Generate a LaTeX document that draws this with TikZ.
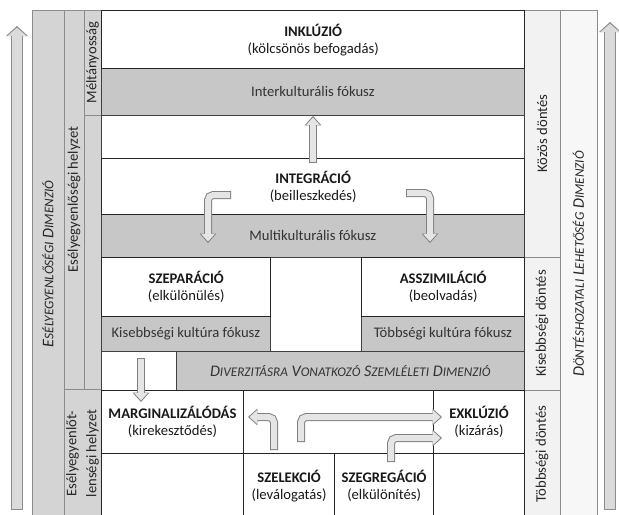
\documentclass[tikz,border=0pt]{standalone}
\usepackage{fontspec}
\setmainfont{Carlito}
\usepackage{tikz}
\usetikzlibrary{arrows.meta}

\newcommand{\pxu}{0.3mm}
\newcommand{\mainfs}{\fontsize{12.5}{14.5}\selectfont}
\newcommand{\sidefs}{\fontsize{12.5}{17}\selectfont}
\newcommand{\dimfs}{\fontsize{13.8}{16}\selectfont\itshape}
\newcommand{\capsc}[2]{#1{\fontsize{11.3}{13}\selectfont #2}}
\newcommand{\fatarrow}[3]{\draw[#1] #3; \draw[#2] #3;}

\begin{document}
\begin{tikzpicture}[x=\pxu, y=-\pxu, wh/.style 2 args={minimum width=#1*\pxu, minimum height=#2*\pxu}]
	\tikzstyle{stage} = [draw=black!85, line width=1.2pt, fill=white, anchor=north west, inner sep=0pt, align=center, font=\mainfs, text=black!90]
	\tikzstyle{focus} = [draw=black!75, line width=0.6pt, fill=black!22, anchor=north west, inner sep=0pt, align=center, font=\mainfs, text=black!80]
	\tikzstyle{cell} = [draw=black!85, line width=0.8pt, fill=white, anchor=north west, inner sep=0pt, align=center, font=\mainfs, text=black!90]
	\tikzstyle{sidecol} = [draw=black!45, line width=0.5pt, fill=black!17, rotate=90, inner sep=0pt, align=center, font=\sidefs, text=black!85]
	\tikzstyle{arrowrim} = [draw=black!50, line width=2.4mm, rounded corners=1.6mm, -{Triangle[width=5mm, length=2.8mm, line width=0pt]}]
	\tikzstyle{arrowcore} = [draw=black!10, line width=1.8mm, rounded corners=1.6mm, shorten <=0.3mm, shorten >=0.45mm, -{Triangle[width=4mm, length=2.2mm, line width=0pt]}]
	\tikzstyle{bigrim} = [draw=black!45, line width=3.6mm, -{Triangle[width=6.6mm, length=3mm, line width=0pt]}]
	\tikzstyle{bigcore} = [draw=black!14, line width=3mm, shorten <=0.3mm, shorten >=0.5mm, -{Triangle[width=5.6mm, length=2.45mm, line width=0pt]}]

	\fill[white] (0,0) rectangle (619,514);
	\useasboundingbox (0,0) rectangle (619,514);

	\begin{scope}
	\node[sidecol, font=\dimfs, wh={508}{32}] (esdim) at (48,264) {\capsc{E}{SÉLYEGYENLŐSÉGI} \capsc{D}{IMENZIÓ}};
	\node[sidecol, wh={379}{20}] (eshelyz) at (74,199.5) {Esélyegyenlőségi helyzet};
	\node[sidecol, wh={105}{17}] (melt) at (92.5,62.5) {Méltányosság};
	\node[sidecol, wh={274}{17}] (meltgap) at (92.5,252) {};
	\node[sidecol, wh={129}{37}] (esegy) at (82.5,453.5) {Esélyegyenlőt-\\lenségi helyzet};
	\node[sidecol, fill=black!5, wh={247}{36}] (kozos) at (542,133.5) {Közös döntés};
	\node[sidecol, fill=black!5, wh={133}{36}] (kisd) at (542,323.5) {Kisebbségi döntés};
	\node[sidecol, fill=black!5, wh={128}{36}] (tobbd) at (542,454) {Többségi döntés};
	\node[sidecol, fill=black!3, font=\dimfs, wh={508}{37}] (dontdim) at (578.5,264) {\capsc{D}{ÖNTÉSHOZATALI} \capsc{L}{EHETŐSÉG} \capsc{D}{IMENZIÓ}};

	\draw[black!75, line width=0.6pt] (101,10) rectangle (524,518);

	\node[focus, wh={423}{47}] (inter) at (101,68) {Interkulturális fókusz};
	\node[stage, wh={423}{58}] (inkl) at (101,10) {\textbf{INKLÚZIÓ}\\(kölcsönös befogadás)};
	\node[focus, wh={423}{43}] (multi) at (101,214) {Multikulturális fókusz};
	\node[stage, wh={423}{56}] (integ) at (101,158) {\textbf{INTEGRÁCIÓ}\\(beilleszkedés)};
	\node[focus, wh={169}{35}] (kisf) at (101,316) {Kisebbségi kultúra fókusz};
	\node[stage, wh={169}{59}] (szep) at (101,257) {\textbf{SZEPARÁCIÓ}\\(elkülönülés)};
	\node[focus, wh={163}{35}] (tobbf) at (361,316) {Többségi kultúra fókusz};
	\node[stage, wh={163}{59}] (asszim) at (361,257) {\textbf{ASSZIMILÁCIÓ}\\(beolvadás)};
	\node[cell, draw=black!75, line width=0.6pt, wh={75}{39}] (gap) at (101,351) {};
	\node[focus, wh={348}{39}, font=\dimfs] (div) at (176,351) {\capsc{D}{IVERZITÁSRA} \capsc{V}{ONATKOZÓ} \capsc{S}{ZEMLÉLETI} \capsc{D}{IMENZIÓ}};
	\node[cell, wh={142}{63}] (marg) at (101,390) {\textbf{MARGINALIZÁLÓDÁS}\\(kirekesztődés)};
	\node[cell, wh={190}{63}] (midrow) at (243,390) {};
	\node[cell, wh={91}{63}] (exkl) at (433,390) {\textbf{EXKLÚZIÓ}\\(kizárás)};
	\node[cell, wh={142}{65}] (lowleft) at (101,453) {};
	\node[cell, wh={91}{65}] (lowright) at (433,453) {};
	\node[cell, line width=1.1pt, wh={91}{65}] (szel) at (243,453) {\textbf{SZELEKCIÓ}\\(leválogatás)};
	\node[cell, line width=1.1pt, wh={99}{65}] (szegr) at (334,453) {\textbf{SZEGREGÁCIÓ}\\(elkülönítés)};
	\end{scope}

	\coordinate (upfoot) at (313,163);
	\coordinate (uptip) at (313,116);
	\coordinate (sepfoot) at (231,195);
	\coordinate (septip) at (208,243);
	\coordinate (assfoot) at (406,193);
	\coordinate (asstip) at (430,243);
	\coordinate (margfoot) at (141,358);
	\coordinate (margtip) at (141,402);
	\coordinate (selfoot) at (274,450);
	\coordinate (seltip) at (248,417);
	\coordinate (exfoot) at (301,442);
	\coordinate (extip) at (442,417);
	\coordinate (segfoot) at (391,462);
	\coordinate (segtip) at (442,438);
	\coordinate (lfoot) at (17,510);
	\coordinate (ltip) at (17,26);
	\coordinate (rfoot) at (610,510);
	\coordinate (rtip) at (610,22);

	\fatarrow{arrowrim}{arrowcore}{(upfoot) -- (uptip)}
	\fatarrow{arrowrim}{arrowcore}{(sepfoot) -| (septip)}
	\fatarrow{arrowrim}{arrowcore}{(assfoot) -| (asstip)}
	\fatarrow{arrowrim}{arrowcore}{(margfoot) -- (margtip)}
	\fatarrow{arrowrim}{arrowcore}{(selfoot) |- (seltip)}
	\fatarrow{arrowrim}{arrowcore}{(exfoot) |- (extip)}
	\fatarrow{arrowrim}{arrowcore}{(segfoot) |- (segtip)}
	\fatarrow{bigrim}{bigcore}{(lfoot) -- (ltip)}
	\fatarrow{bigrim}{bigcore}{(rfoot) -- (rtip)}
\end{tikzpicture}
\end{document}
